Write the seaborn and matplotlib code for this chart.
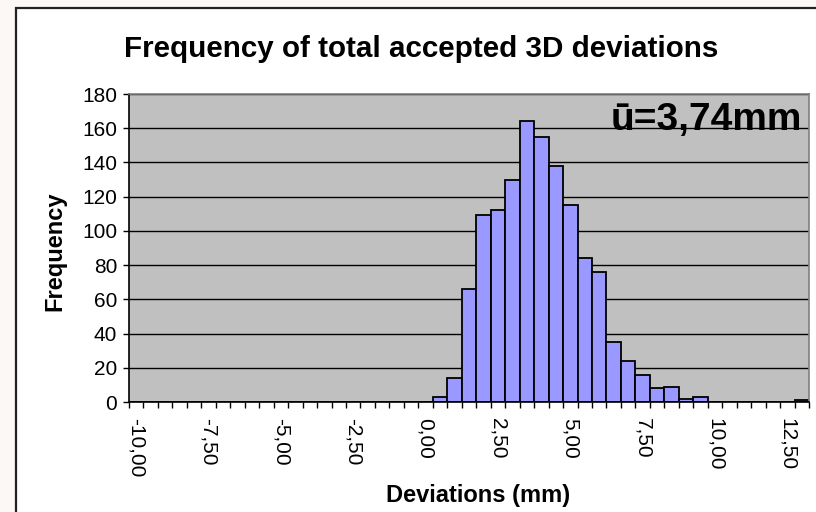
import matplotlib
matplotlib.use("Agg")
import matplotlib.pyplot as plt
from matplotlib.patches import Rectangle
import seaborn as sns
import pandas as pd

# histogram categories (upper bin bounds) and counts
BINS = [
    -10.0, -9.5, -9.0, -8.5, -8.0, -7.5, -7.0, -6.5, -6.0, -5.5,
    -5.0, -4.5, -4.0, -3.5, -3.0, -2.5, -2.0, -1.5, -1.0, -0.5,
    0.0, 0.5, 1.0, 1.5, 2.0, 2.5, 3.0, 3.5, 4.0, 4.5,
    5.0, 5.5, 6.0, 6.5, 7.0, 7.5, 8.0, 8.5, 9.0, 9.5,
    10.0, 10.5, 11.0, 11.5, 12.0, 12.5, 13.0,
]
COUNTS = [
    0, 0, 0, 0, 0, 0, 0, 0, 0, 0,
    0, 0, 0, 0, 0, 0, 0, 0, 0, 0,
    0, 3, 14, 66, 109, 112, 130, 164, 155, 138,
    115, 84, 76, 35, 24, 16, 8, 9, 2, 3,
    0, 0, 0, 0, 0, 0, 1,
]
TICK_LABELS = ["-10,00", "-7,50", "-5,00", "-2,50", "0,00",
               "2,50", "5,00", "7,50", "10,00", "12,50"]
Y_TICKS = [0, 20, 40, 60, 80, 100, 120, 140, 160, 180]

TITLE = "Frequency of total accepted 3D deviations"
MEAN_LABEL = "ū=3,74mm"

BAR_COLOR = "#9999ff"
PLOT_BG = "#c0c0c0"

sns.set_style("white")
plt.rcParams["font.family"] = ["Liberation Sans", "DejaVu Sans"]
plt.rcParams["text.color"] = "black"
plt.rcParams["xtick.color"] = "black"
plt.rcParams["ytick.color"] = "black"

W, H = 816, 512
fig = plt.figure(figsize=(W / 100, H / 100), dpi=100, facecolor="#fbf8f5")
# chart area frame, cut off at the right and bottom edges
fig.patches.append(Rectangle(
    (16 / W, -0.1), 1.2, 1 - 8 / H + 0.1, transform=fig.transFigure,
    fc="white", ec="#222222", lw=1.6, zorder=-5
))

ax = fig.add_axes([129 / W, 1 - 402 / H, 680 / W, 308 / H])
ax.set_facecolor(PLOT_BG)

df = pd.DataFrame({
    "bin": [f"{b:.2f}".replace(".", ",") for b in BINS],
    "count": COUNTS,
})
sns.barplot(
    data=df, x="bin", y="count", color=BAR_COLOR, saturation=1, width=1,
    edgecolor="black", linewidth=1.3, ax=ax
)

ax.set_xlim(-0.5, len(BINS) - 0.5)
ax.set_ylim(0, 180)
ax.set_axisbelow(True)
ax.yaxis.grid(True, color="black", lw=1)
ax.xaxis.grid(False)

label_pos = [i for i, b in enumerate(df["bin"]) if b in TICK_LABELS]
ax.set_xticks(label_pos)
ax.set_xticklabels(TICK_LABELS, rotation=270, ha="center", va="top", fontsize=15)
ax.set_xticks([i - 0.5 for i in range(len(BINS) + 1)], minor=True)
ax.tick_params(axis="x", which="major", length=0, pad=11.5)
ax.tick_params(axis="x", which="minor", length=4.5, width=1, color="black", direction="out", bottom=True)

ax.set_yticks(Y_TICKS)
ax.set_yticklabels([str(t) for t in Y_TICKS], fontsize=15)
ax.tick_params(axis="y", length=4.5, width=1, color="black", direction="out", pad=4, left=True)

ax.set_xlabel("")
ax.set_ylabel("")
for side in ["left", "bottom"]:
    ax.spines[side].set_color("black")
    ax.spines[side].set_linewidth(1.2)
for side in ["top", "right"]:
    ax.spines[side].set_color("#808080")
    ax.spines[side].set_linewidth(1.2)

fig.text(421 / W, 1 - 57 / H, TITLE, ha="center", va="baseline", fontsize=21.3, fontweight="bold")
fig.text(802 / W, 1 - 130 / H, MEAN_LABEL, ha="right", va="baseline", fontsize=28, fontweight="bold")
fig.text(55 / W, 1 - 251 / H, "Frequency", rotation=90, ha="center", va="center", fontsize=17, fontweight="bold")
fig.text(478 / W, 1 - 502 / H, "Deviations (mm)", ha="center", va="baseline", fontsize=17, fontweight="bold")

fig.savefig("out.png", dpi=100, facecolor=fig.get_facecolor())
